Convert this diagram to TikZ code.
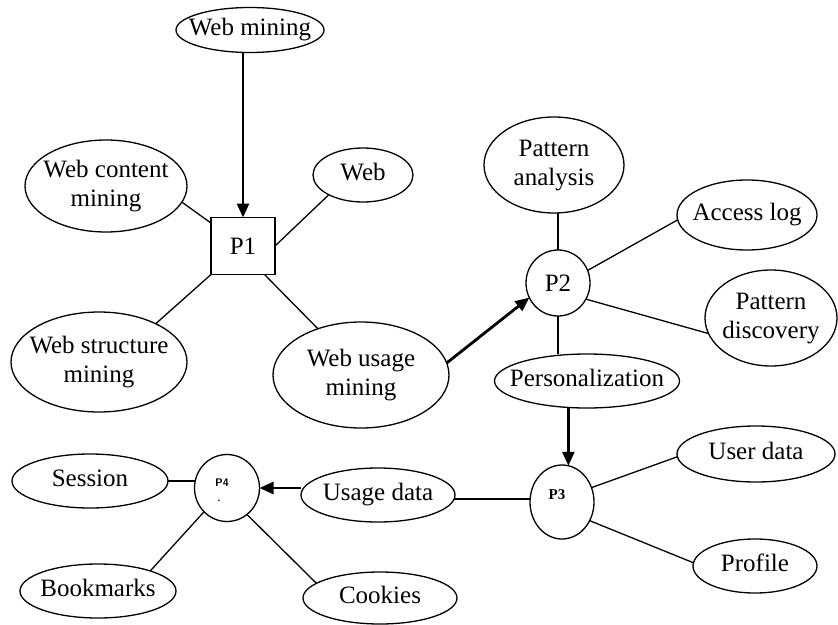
\documentclass[tikz,border=0pt]{standalone}
\usepackage{fontspec}
\setmainfont{Liberation Serif}
\usetikzlibrary{shapes.geometric,arrows.meta,calc}
\newcommand{\ovtxt}[1]{\makebox[0pt]{\begin{tabular}{@{}c@{}}#1\end{tabular}}}
\begin{document}
\begin{tikzpicture}[x=1pt,y=-1pt,
  font=\fontsize{25}{29}\selectfont,
  oval/.style={ellipse,draw,line width=1.3pt,inner sep=0pt,outer sep=0pt},
  boxnode/.style={rectangle,draw,line width=1.3pt,inner sep=0pt,outer sep=0pt},
  link/.style={line width=1.3pt},
  flow/.style={line width=2.8pt,-{Triangle[length=14pt,width=12pt]}},
  smallp/.style={font=\fontsize{15}{15}\selectfont\bfseries},
  tinyp/.style={font=\fontsize{11}{11}\selectfont\sffamily\bfseries}]
\useasboundingbox (0,0) rectangle (838,624);

% nodes
\node[oval,minimum width=148pt,minimum height=45pt] (wm) at (250,30) {\ovtxt{Web mining}};
\node[boxnode,minimum width=64pt,minimum height=57pt] (p1) at (243,246) {P1};
\node[oval,minimum width=162pt,minimum height=92pt] (wc) at (106,186) {\ovtxt{Web content\\mining}};
\node[oval,minimum width=100pt,minimum height=54pt] (web) at (363,175) {\ovtxt{Web}};
\node[oval,minimum width=176pt,minimum height=100pt] (ws) at (99,362) {\ovtxt{Web structure\\mining}};
\node[oval,minimum width=176pt,minimum height=106pt] (wu) at (361,375) {\ovtxt{Web usage\\mining}};

\node[oval,minimum width=140pt,minimum height=96pt] (pa) at (554,165) {\ovtxt{Pattern\\analysis}};
\node[oval,minimum width=64pt,minimum height=66pt] (p2) at (558,283) {P2};
\node[oval,minimum width=140pt,minimum height=70pt] (al) at (747,215) {\ovtxt{Access log}};
\node[oval,minimum width=132pt,minimum height=96pt] (pd) at (771,318) {\ovtxt{Pattern\\discovery}};
\node[oval,minimum width=185pt,minimum height=54pt] (pers) at (587,381) {\ovtxt{Personalization}};

\node[oval,minimum width=64pt,minimum height=74pt,
  label={[smallp,xshift=-5pt,yshift=7pt]center:P3}] (p3) at (562,502) {};
\node[oval,minimum width=158pt,minimum height=56pt] (ud) at (756,454) {\ovtxt{User data}};
\node[oval,minimum width=124pt,minimum height=54pt] (pr) at (755,566) {\ovtxt{Profile}};
\node[oval,minimum width=154pt,minimum height=54pt] (usd) at (378,495) {\ovtxt{Usage data}};

\node[oval,minimum width=65pt,minimum height=67pt,
  label={[tinyp,xshift=-5pt,yshift=5pt]center:P4},
  label={[tinyp,xshift=-8pt,yshift=-13pt]center:.}] (p4) at (227,488) {};
\node[oval,minimum width=156pt,minimum height=54pt] (ses) at (90,481) {\ovtxt{Session}};
\node[oval,minimum width=156pt,minimum height=54pt] (bm) at (98,591) {\ovtxt{Bookmarks}};
\node[oval,minimum width=154pt,minimum height=52pt] (ck) at (380,598) {\ovtxt{Cookies}};

% connectors around P1
\draw[flow] (p1.north |- wm.south) -- (p1.north);
\draw[link] (wc.-12) -- (p1);
\draw[link] (web.-150) -- (p1.east);
\draw[link] (ws.34) -- (p1.south west);
\draw[link] (wu.133) -- (p1.-53);
\draw[flow] (wu.8) -- (p2.207);

% around P2
\draw[link] (pa.south -| p2.north) -- (p2.north);
\draw[link] (p2.23) -- (al.184);
\draw[link] (p2.-30) -- (pd.194);
\draw[link] (p2.south) -- (p2.south |- pers.north);
\draw[flow] (pers.south -| p3.80) -- (p3.80);

% around P3
\draw[link] (p3.26) -- (ud.182);
\draw[link] (p3.-34) -- (pr.177);
\draw[link] (usd.-3) -- (usd.-3 -| p3.west);
\draw[flow] (usd.west |- p4.east) -- (p4.east);

% around P4
\draw[link] (ses.east) -- (ses.east -| p4.west);
\draw[link] (p4.226) -- (bm.21);
\draw[link] (p4.-53) -- (ck.167);
\end{tikzpicture}
\end{document}
